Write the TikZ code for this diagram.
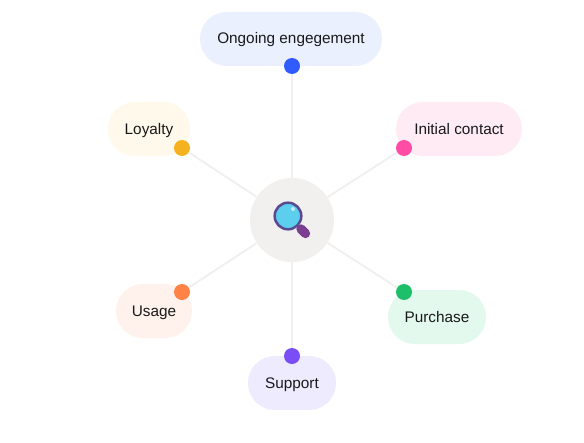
\documentclass[tikz,border=0pt]{standalone}
\usepackage{fontspec}
\setmainfont{Liberation Sans}
\definecolor{blueback}{HTML}{EBF0FF}
\definecolor{bluedot}{HTML}{2F5BFF}
\definecolor{pinkback}{HTML}{FFEBF4}
\definecolor{pinkdot}{HTML}{FF4DA6}
\definecolor{greenback}{HTML}{E3F9EE}
\definecolor{greendot}{HTML}{1DBF6B}
\definecolor{violetback}{HTML}{EEEBFF}
\definecolor{violetdot}{HTML}{7B4DF5}
\definecolor{orangeback}{HTML}{FFF1EC}
\definecolor{orangedot}{HTML}{FF8247}
\definecolor{yellowback}{HTML}{FFF9EB}
\definecolor{yellowdot}{HTML}{F5B21F}
\definecolor{hubgray}{HTML}{F1F0EF}
\definecolor{spokegray}{HTML}{F0F0F0}
\definecolor{ringviolet}{HTML}{5A4A90}
\definecolor{lensblue}{HTML}{5CCFEE}
\definecolor{handleviolet}{HTML}{7C3F8F}
\tikzset{
  pill/.style={rounded corners=20pt, minimum height=40.5pt, inner sep=0pt, text height=9pt, text depth=1.5pt, text=black!90, font=\fontsize{11.5}{13}\selectfont},
  dot/.style={circle, inner sep=0pt, minimum size=12pt},
  spoke/.style={draw=spokegray, line width=1.5pt}
}
\begin{document}
\begin{tikzpicture}[x=0.75pt, y=-0.75pt]
  \useasboundingbox (0,0) rectangle (584,442);

  % hub
  \node[circle, fill=hubgray, inner sep=0pt, minimum size=63pt] (hub) at (292,220) {};

  % pills
  \node[pill, fill=blueback, minimum width=136.5pt] (ongoing) at (291,39) {Ongoing engegement};
  \node[pill, fill=pinkback, minimum width=94.5pt] (initial) at (459,129) {Initial contact};
  \node[pill, fill=greenback, minimum width=73.5pt] (purchase) at (437,317) {Purchase};
  \node[pill, fill=violetback, minimum width=66pt] (support) at (292,383) {Support};
  \node[pill, fill=orangeback, minimum width=57pt] (usage) at (154,311) {Usage};
  \node[pill, fill=yellowback, minimum width=61.5pt] (loyalty) at (149,129) {Loyalty};

  % dots
  \node[dot, fill=bluedot] (ongoingdot) at (292,66) {};
  \node[dot, fill=pinkdot] (initialdot) at (404,148) {};
  \node[dot, fill=greendot] (purchasedot) at (404,292) {};
  \node[dot, fill=violetdot] (supportdot) at (292,356) {};
  \node[dot, fill=orangedot] (usagedot) at (182,292) {};
  \node[dot, fill=yellowdot] (loyaltydot) at (182,148) {};

  % spokes
  \foreach \i in {ongoing,initial,purchase,support,usage,loyalty}
    \draw[spoke] (hub) -- (\i dot);

  % magnifier
  \draw[line width=7pt, line cap=round, handleviolet] (301,229) -- (305.5,233.5);
  \draw[line width=1.9pt, ringviolet, fill=lensblue] (288,216) circle (13.3);
  \fill[white, opacity=0.6] (293,209) circle (2);
\end{tikzpicture}
\end{document}
